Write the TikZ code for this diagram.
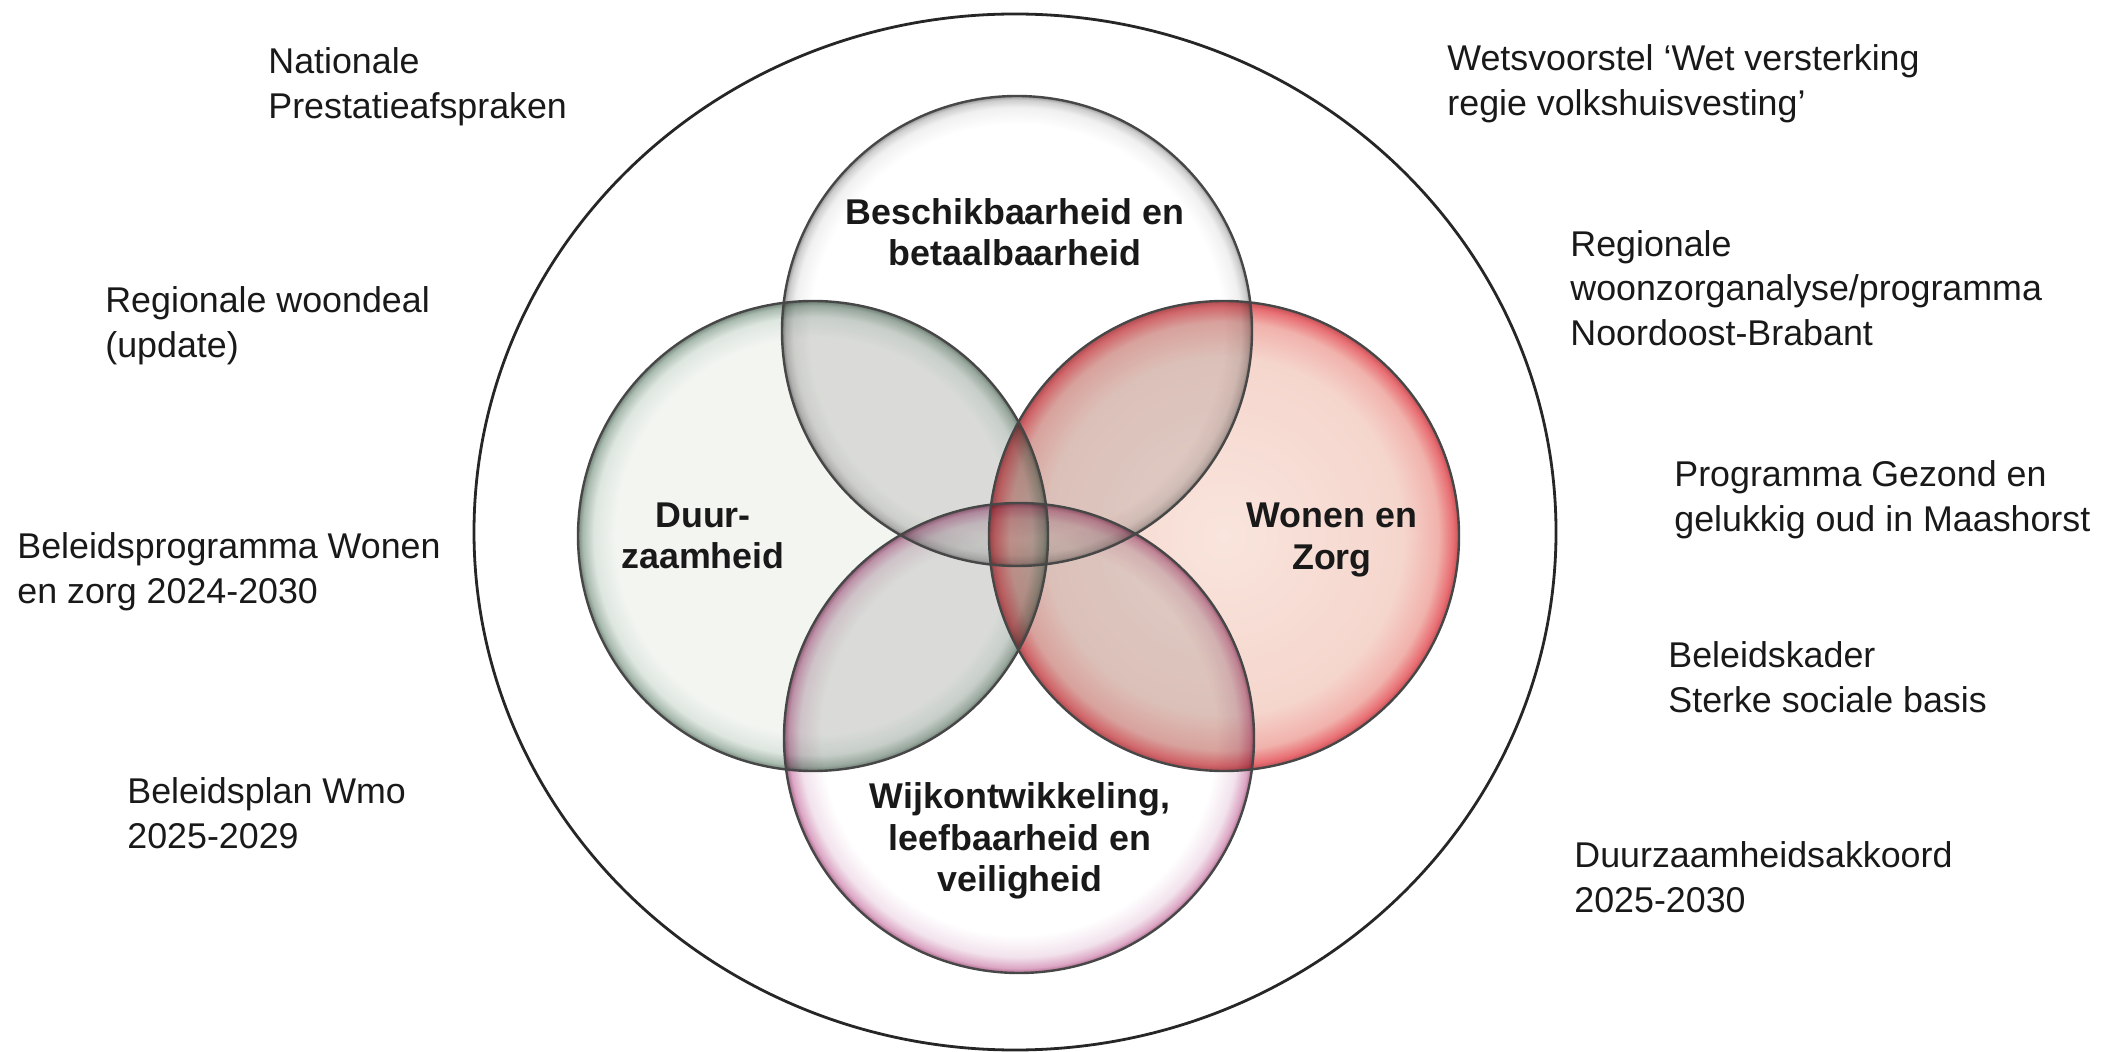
\documentclass[tikz,border=0pt]{standalone}
\usepackage{fontspec}
\setmainfont{Liberation Sans}
\definecolor{tA}{RGB}{240,240,240}
\definecolor{tB}{RGB}{205,205,205}
\definecolor{tC}{RGB}{150,150,150}
\definecolor{lO}{RGB}{243,245,241}
\definecolor{lA}{RGB}{222,230,224}
\definecolor{lB}{RGB}{168,186,174}
\definecolor{lC}{RGB}{118,136,125}
\definecolor{rO}{RGB}{249,229,221}
\definecolor{rI}{RGB}{245,214,205}
\definecolor{rA}{RGB}{241,178,172}
\definecolor{rB}{RGB}{232,110,115}
\definecolor{rC}{RGB}{195,80,86}
\definecolor{bA}{RGB}{242,226,236}
\definecolor{bB}{RGB}{220,166,196}
\definecolor{bC}{RGB}{170,106,140}
\pgfdeclareradialshading{shTop}{\pgfpoint{0bp}{0bp}}{color(0bp)=(white); color(22bp)=(white); color(23.8bp)=(tA); color(24.6bp)=(tB); color(25bp)=(tC); color(50bp)=(tC)}
\pgfdeclareradialshading{shLeft}{\pgfpoint{0bp}{0bp}}{color(0bp)=(lO); color(21bp)=(lO); color(23.3bp)=(lA); color(24.5bp)=(lB); color(25bp)=(lC); color(50bp)=(lC)}
\pgfdeclareradialshading{shRight}{\pgfpoint{0bp}{0bp}}{color(0bp)=(rO); color(19bp)=(rI); color(22.8bp)=(rA); color(24.4bp)=(rB); color(25bp)=(rC); color(50bp)=(rC)}
\pgfdeclareradialshading{shBot}{\pgfpoint{0bp}{0bp}}{color(0bp)=(white); color(21bp)=(white); color(23.3bp)=(bA); color(24.5bp)=(bB); color(25bp)=(bC); color(50bp)=(bC)}
\begin{document}
\begin{tikzpicture}[x=0.5pt,y=-0.5pt,
  outer/.style={anchor=west, align=left, inner sep=0pt, font=\fontsize{17.9}{22.3}\selectfont, text=black!90},
  inlabel/.style={anchor=center, align=center, inner sep=0pt, font=\bfseries\fontsize{17.9}{20.7}\selectfont, text=black!90},
  ring/.style={draw=black!72, line width=1.2pt}]
\useasboundingbox[fill=white] (0,0) rectangle (2102,1052);
\coordinate (cT) at (1017,331);
\coordinate (cL) at (813,536);
\coordinate (cR) at (1224,536);
\coordinate (cB) at (1019,738);
\coordinate (cO) at (1015,532);
% outer ring
\draw[line width=1.4pt, black!85] (cO) ellipse [x radius=270.5pt, y radius=259pt];
% shaded circles
\begin{scope}[blend mode=multiply]
\shade[shading=shTop] (cT) circle[radius=117.5pt];
\shade[shading=shLeft] (cL) circle[radius=117.5pt];
\shade[shading=shRight] (cR) circle[radius=117.5pt];
\shade[shading=shBot] (cB) circle[radius=117.5pt];
\end{scope}
% overlap darkening
\begin{scope}[transparency group, opacity=0.13]
\foreach \a/\b in {cT/cL, cT/cR, cT/cB, cL/cR, cL/cB, cR/cB}{
  \begin{scope}\clip (\a) circle[radius=117.5pt]; \fill[black!80] (\b) circle[radius=117.5pt];\end{scope}}
\end{scope}
\begin{scope}[transparency group, opacity=0.09]
\foreach \a/\b/\c in {cT/cL/cR, cT/cL/cB, cT/cR/cB, cL/cR/cB}{
  \begin{scope}\clip (\a) circle[radius=117.5pt]; \clip (\b) circle[radius=117.5pt]; \fill[black!80] (\c) circle[radius=117.5pt];\end{scope}}
\end{scope}
% outlines
\draw[ring] (cT) circle[radius=117.5pt];
\draw[ring] (cL) circle[radius=117.5pt];
\draw[ring] (cR) circle[radius=117.5pt];
\draw[ring] (cB) circle[radius=117.5pt];
% inner labels
\node[inlabel] (lbT) at (1015,232) {Beschikbaarheid en\\betaalbaarheid};
\node[inlabel] (lbL) at (703,536) {Duur-\\zaamheid};
\node[inlabel] (lbR) at (1332,540) {Wonen en\\Zorg};
\node[inlabel] (lbB) at (1020,841) {Wijkontwikkeling,\\leefbaarheid en\\veiligheid};
% outer labels left
\node[outer] (o1) at (268,87) {Nationale\\Prestatieafspraken};
\node[outer] (o2) at (105,326) {Regionale woondeal\\(update)};
\node[outer] (o3) at (17,572) {Beleidsprogramma Wonen\\en zorg 2024-2030};
\node[outer] (o4) at (127,813) {Beleidsplan Wmo\\2025-2029};
% outer labels right
\node[outer] (o5) at (1447,84) {Wetsvoorstel ‘Wet versterking\\regie volkshuisvesting’};
\node[outer] (o6) at (1570,288) {Regionale\\woonzorganalyse/programma\\Noordoost-Brabant};
\node[outer] (o7) at (1674,500) {Programma Gezond en\\gelukkig oud in Maashorst};
\node[outer] (o8) at (1668,677) {Beleidskader\\Sterke sociale basis};
\node[outer] (o9) at (1574,877) {Duurzaamheidsakkoord\\2025-2030};
\end{tikzpicture}
\end{document}
